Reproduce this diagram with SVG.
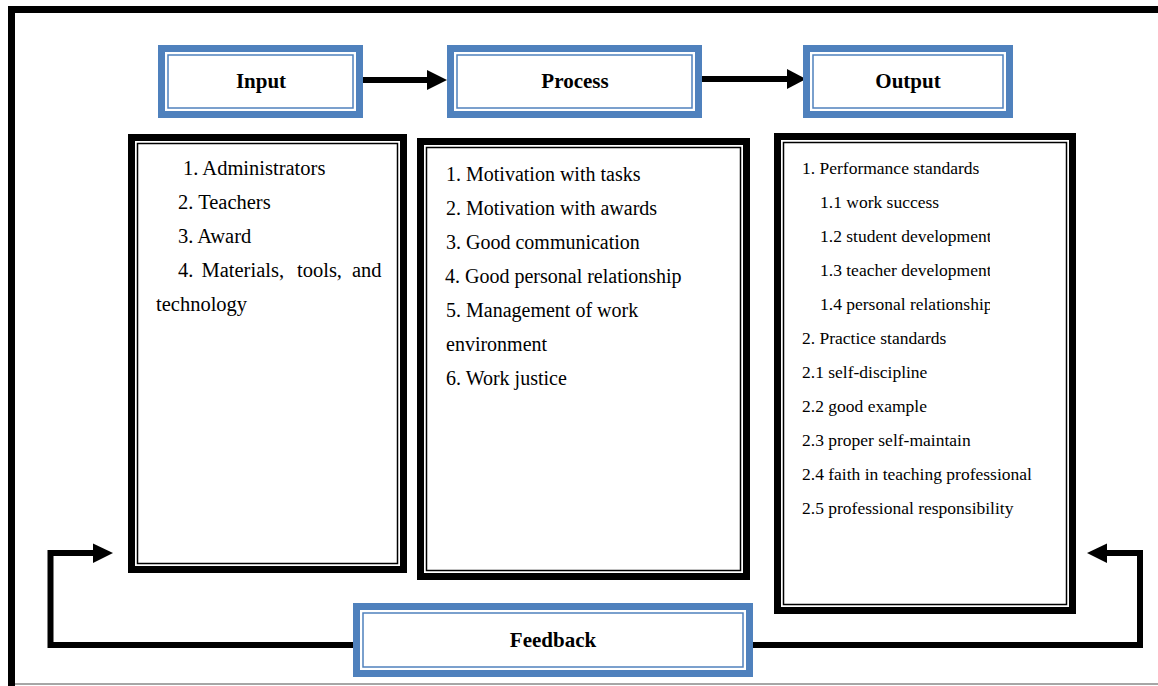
<svg xmlns="http://www.w3.org/2000/svg" width="1158" height="686" viewBox="0 0 1158 686">
  <defs>
    <style>
      .tbo { fill: #ffffff; stroke: #4F81BD; stroke-width: 7; }
      .tbi { fill: none; stroke: #4F81BD; stroke-width: 1.5; }
      .bbo { fill: #ffffff; stroke: #000000; stroke-width: 7; }
      .bbi { fill: none; stroke: #000000; stroke-width: 1.5; }
      .title { font-family: "Liberation Serif", "Times New Roman", serif; font-weight: bold; font-size: 21px; fill: #000; text-anchor: middle; }
      .lin { font-family: "Liberation Serif", "Times New Roman", serif; font-size: 20.5px; fill: #000; }
      .lpr { font-family: "Liberation Serif", "Times New Roman", serif; font-size: 20px; fill: #000; }
      .lou { font-family: "Liberation Serif", "Times New Roman", serif; font-size: 17.5px; fill: #000; }
      .conn { fill: none; stroke: #000; stroke-width: 6; stroke-linejoin: miter; }
      .head { fill: #000; }
    </style>
    <clipPath id="outClip">
      <rect x="780" y="140" width="210" height="470"/>
    </clipPath>
  </defs>

  <g id="frame">
    <line x1="11.5" y1="6" x2="11.5" y2="686" stroke="#000" stroke-width="7"/>
    <line x1="8" y1="9.5" x2="1158" y2="9.5" stroke="#000" stroke-width="7"/>
    <line x1="15" y1="684" x2="1158" y2="684" stroke="#888" stroke-width="1.5"/>
  </g>

  <g id="connectors">
    <line class="conn" x1="363" y1="80" x2="430" y2="80"/>
    <polygon class="head" points="427,70 447,80 427,90"/>
    <line class="conn" x1="702" y1="79" x2="790" y2="79"/>
    <polygon class="head" points="787,69 806,79 787,89"/>
    <polyline class="conn" points="353,645 50.5,645 50.5,553 96,553"/>
    <polygon class="head" points="93,543.5 113,553 93,563"/>
    <polyline class="conn" points="753,645 1140,645 1140,553 1104,553"/>
    <polygon class="head" points="1107,543.5 1087,553 1107,563"/>
  </g>

  <g id="input-title">
    <rect class="tbo" x="161.5" y="48.5" width="198" height="66"/>
    <rect class="tbi" x="168" y="55" width="185" height="53"/>
    <text class="title" x="261" y="88">Input</text>
  </g>
  <g id="process-title">
    <rect class="tbo" x="450.5" y="48.5" width="248" height="66"/>
    <rect class="tbi" x="457" y="55" width="235" height="53"/>
    <text class="title" x="575" y="88">Process</text>
  </g>
  <g id="output-title">
    <rect class="tbo" x="806.5" y="48.5" width="203" height="66"/>
    <rect class="tbi" x="813" y="55" width="190" height="53"/>
    <text class="title" x="908" y="88">Output</text>
  </g>

  <g id="input-list">
    <rect class="bbo" x="131.5" y="137.5" width="272" height="432"/>
    <rect class="bbi" x="137.5" y="143.5" width="260" height="420"/>
    <text class="lin" x="183" y="175">1. Administrators</text>
    <text class="lin" x="178" y="209">2. Teachers</text>
    <text class="lin" x="178" y="243">3. Award</text>
    <text class="lin" y="277"><tspan x="178">4.</tspan><tspan x="201.5">Materials,</tspan><tspan x="297">tools,</tspan><tspan x="352">and</tspan></text>
    <text class="lin" x="156" y="311">technology</text>
  </g>

  <g id="process-list">
    <rect class="bbo" x="420.5" y="141.5" width="326" height="435"/>
    <rect class="bbi" x="426.5" y="147.5" width="314" height="423"/>
    <text class="lpr" x="446" y="181">1. Motivation with tasks</text>
    <text class="lpr" x="446" y="215">2. Motivation with awards</text>
    <text class="lpr" x="446" y="249">3. Good communication</text>
    <text class="lpr" x="445" y="283">4. Good personal relationship</text>
    <text class="lpr" x="446" y="317">5. Management of work</text>
    <text class="lpr" x="446" y="351">environment</text>
    <text class="lpr" x="446" y="385">6. Work justice</text>
  </g>

  <g id="output-list">
    <rect class="bbo" x="777.5" y="136.5" width="295" height="474"/>
    <rect class="bbi" x="783.5" y="142.5" width="283" height="462"/>
    <text class="lou" x="802" y="174">1. Performance standards</text>
    <text class="lou" x="820" y="208">1.1 work success</text>
    <g clip-path="url(#outClip)">
      <text class="lou" x="820" y="242">1.2 student development</text>
      <text class="lou" x="820" y="276">1.3 teacher development</text>
      <text class="lou" x="820" y="310">1.4 personal relationship</text>
    </g>
    <text class="lou" x="802" y="344">2. Practice standards</text>
    <text class="lou" x="802" y="378">2.1 self-discipline</text>
    <text class="lou" x="802" y="412">2.2 good example</text>
    <text class="lou" x="802" y="446">2.3 proper self-maintain</text>
    <text class="lou" x="802" y="480">2.4 faith in teaching professional</text>
    <text class="lou" x="802" y="514">2.5 professional responsibility</text>
  </g>

  <g id="feedback">
    <rect class="tbo" x="356.5" y="606.5" width="393" height="67"/>
    <rect class="tbi" x="363" y="613" width="380" height="54"/>
    <text class="title" x="553" y="647">Feedback</text>
  </g>
</svg>
